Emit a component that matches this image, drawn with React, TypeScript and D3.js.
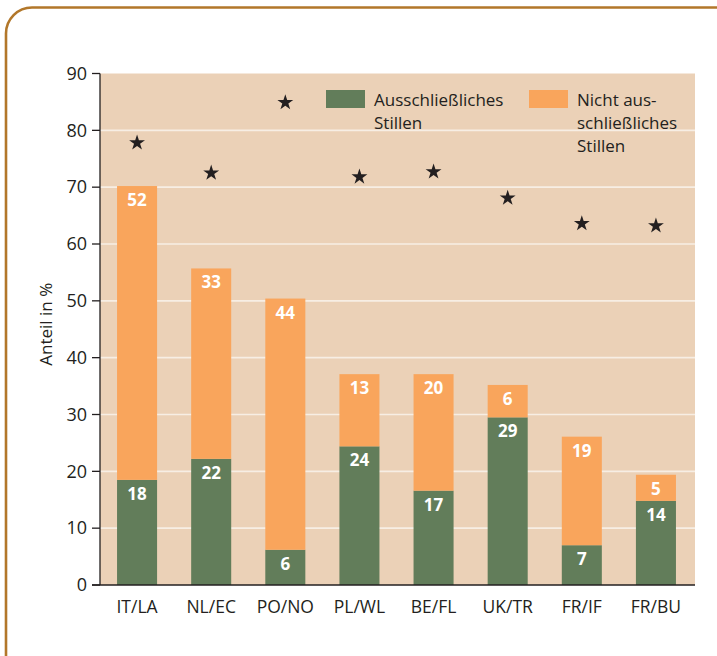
import React from "react";
import * as d3 from "d3";

const categories = ["IT/LA", "NL/EC", "PO/NO", "PL/WL", "BE/FL", "UK/TR", "FR/IF", "FR/BU"];
const exclusive = [18.5, 22.2, 6.2, 24.4, 16.6, 29.5, 7.0, 14.8];
const nonExclusive = [51.7, 33.5, 44.2, 12.7, 20.5, 5.7, 19.1, 4.6];
const exclusiveLabels = ["18", "22", "6", "24", "17", "29", "7", "14"];
const nonExclusiveLabels = ["52", "33", "44", "13", "20", "6", "19", "5"];
const starValues = [77.8, 72.5, 84.9, 71.8, 72.7, 68.1, 63.6, 63.2];
const yTicks = [0, 10, 20, 30, 40, 50, 60, 70, 80, 90];
const legendGreen = ["Ausschließliches", "Stillen"];
const legendOrange = ["Nicht aus-", "schließliches", "Stillen"];

const W = 717;
const H = 656;
const left = 100;
const right = 695;
const top = 73.5;
const bottom = 585;

const GREEN = "#627d5a";
const ORANGE = "#f9a55c";
const PANEL = "#ebd1b7";
const GRID = "#f7eee4";
const INK = "#231f20";
const BORDER = "#b2772a";
const FONT = "'Open Sans', sans-serif";

export default function App() {
  const x = d3.scaleBand<string>().domain(categories).range([left, 693]).paddingInner(0.46).paddingOuter(0.23);
  const y = d3.scaleLinear().domain([0, 90]).range([bottom, top]);
  const star = d3.symbol().type(d3.symbolStar).size(78)();

  return (
    <svg width={W} height={H} style={{ position: "absolute", left: 0, top: 0, background: "#fff" }} fontFamily={FONT}>
      <rect x={6} y={7.5} width={740} height={680} rx={26} ry={26} fill="none" stroke={BORDER} strokeWidth={2.6} />
      <rect x={left} y={top} width={right - left} height={bottom - top} fill={PANEL} />
      {yTicks.filter((t) => t > 0 && t < 90).map((t) => (
        <line key={"g" + t} x1={left} x2={right} y1={y(t)} y2={y(t)} stroke={GRID} strokeWidth={1.6} />
      ))}
      {categories.map((c, i) => {
        const bx = x(c)!;
        const bw = x.bandwidth();
        const g0 = y(0), g1 = y(exclusive[i]);
        const o1 = y(exclusive[i] + nonExclusive[i]);
        return (
          <g key={c}>
            <rect x={bx} y={g1} width={bw} height={g0 - g1} fill={GREEN} />
            <rect x={bx} y={o1} width={bw} height={g1 - o1} fill={ORANGE} />
            <text x={bx + bw / 2} y={g1 + 20} textAnchor="middle" fill="#fff" fontWeight={700} fontSize={17}>{exclusiveLabels[i]}</text>
            <text x={bx + bw / 2} y={o1 + 20} textAnchor="middle" fill="#fff" fontWeight={700} fontSize={17}>{nonExclusiveLabels[i]}</text>
            <path d={star!} transform={`translate(${bx + bw / 2},${y(starValues[i])})`} fill={INK} />
            <text x={bx + bw / 2} y={bottom + 27.5} textAnchor="middle" fill={INK} fontSize={17.5}>{c}</text>
          </g>
        );
      })}
      <line x1={left} x2={left} y1={top} y2={bottom} stroke={INK} strokeWidth={1.3} />
      <line x1={left - 8} x2={right} y1={bottom} y2={bottom} stroke={INK} strokeWidth={1.3} />
      {yTicks.map((t) => (
        <g key={"t" + t}>
          <line x1={left - 8} x2={left} y1={y(t)} y2={y(t)} stroke={INK} strokeWidth={1.3} />
          <text x={left - 13} y={y(t) + 6.3} textAnchor="end" fill={INK} fontSize={18}>{t}</text>
        </g>
      ))}
      <text transform={`translate(52,${(top + bottom) / 2 - 5}) rotate(-90)`} textAnchor="middle" fill={INK} fontSize={17}>Anteil in %</text>
      <rect x={326} y={90} width={39} height={18} fill={GREEN} />
      {legendGreen.map((s, i) => (
        <text key={"lg" + i} x={374} y={105.5 + i * 23} fill={INK} fontSize={17}>{s}</text>
      ))}
      <rect x={529} y={90} width={39} height={18} fill={ORANGE} />
      {legendOrange.map((s, i) => (
        <text key={"lo" + i} x={577} y={105.5 + i * 23} fill={INK} fontSize={17}>{s}</text>
      ))}
    </svg>
  );
}
